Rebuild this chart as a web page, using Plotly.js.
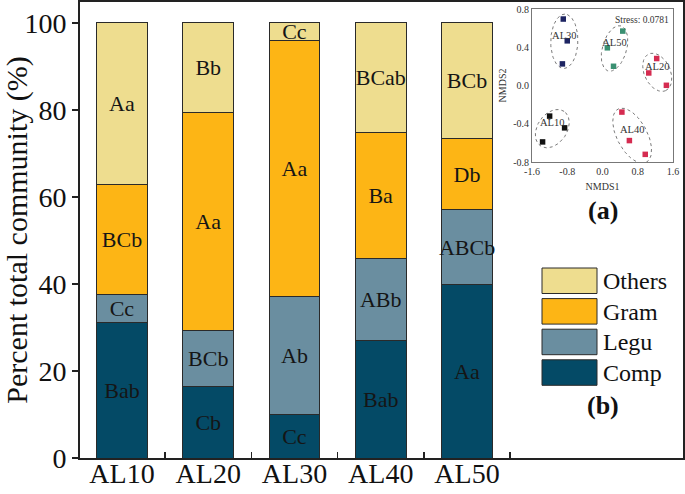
<!DOCTYPE html>
<html>
<head>
<meta charset="utf-8">
<script src="https://cdn.plot.ly/plotly-3.0.1.min.js"></script>
<style>html,body{margin:0;padding:0;background:#fff;}#chart{width:685px;height:494px;}</style>
</head>
<body>
<div id="chart"></div>
<script>
// ---- Data (bar chart, b) ----
const categories = ['AL10', 'AL20', 'AL30', 'AL40', 'AL50'];
const compValues = [31.1, 16.5, 10.1, 26.9, 39.8];
const leguValues = [6.5, 12.7, 27.0, 19.0, 17.2];
const gramValues = [25.3, 50.1, 58.8, 28.9, 16.4];
const othersValues = [37.1, 20.7, 4.1, 25.2, 26.6];
const compLabels = ['Bab', 'Cb', 'Cc', 'Bab', 'Aa'];
const leguLabels = ['Cc', 'BCb', 'Ab', 'ABb', 'ABCb'];
const gramLabels = ['BCb', 'Aa', 'Aa', 'Ba', 'Db'];
const othersLabels = ['Aa', 'Bb', 'Cc', 'BCab', 'BCb'];
const yTickValues = [0, 20, 40, 60, 80, 100];

// ---- Data (NMDS inset, a) ----
const nmdsGroups = ['AL10', 'AL20', 'AL30', 'AL40', 'AL50'];
const al10X = [-1.20, -0.86, -1.36];
const al10Y = [-0.32, -0.443, -0.59];
const al20X = [1.23, 1.05, 1.45];
const al20Y = [0.282, 0.131, 0.002];
const al30X = [-0.89, -0.80, -0.91];
const al30Y = [0.695, 0.467, 0.226];
const al40X = [0.44, 0.61, 0.97];
const al40Y = [-0.278, -0.576, -0.72];
const al50X = [0.46, 0.11, 0.25];
const al50Y = [0.569, 0.394, 0.201];
const nmdsTicksX = [-1.6, -0.8, 0.0, 0.8, 1.6];
const nmdsTicksY = [-0.8, -0.4, 0.0, 0.4, 0.8];
const stressText = 'Stress: 0.0781';

// ---- Styles ----
const FONT = 'Liberation Serif, Times New Roman, serif';
const seriesNames = ['Comp', 'Legu', 'Gram', 'Others'];
const seriesColors = ['#044a66', '#6a8ea0', '#fdb515', '#eedd8f'];
const nmdsColors = ['#111111', '#d52b50', '#1d2462', '#d52b50', '#3a9072'];

const W = 685, H = 494;
const M = {l: 80, r: 2, t: 2, b: 36};
const plotW = W - M.l - M.r, plotH = H - M.t - M.b;
const px2x = p => (p - M.l) / plotW;
const px2y = p => (H - M.b - p) / plotH;

// inset placement
const insetDomX = [px2x(532), px2x(673)];
const insetDomY = [px2y(162), px2y(9)];
const insetRangeX = [-1.6, 1.6], insetRangeY = [-0.8, 0.8];
const sx = (insetDomX[1] - insetDomX[0]) * plotW / (insetRangeX[1] - insetRangeX[0]);
const sy = (insetDomY[1] - insetDomY[0]) * plotH / (insetRangeY[1] - insetRangeY[0]);

function ellipseFor(xs, ys) {
  const px = xs.map(v => v * sx), py = ys.map(v => v * sy);
  const n = px.length;
  const mx = px.reduce((a, b) => a + b, 0) / n, my = py.reduce((a, b) => a + b, 0) / n;
  let cxx = 0, cyy = 0, cxy = 0;
  for (let i = 0; i < n; i++) { const dx = px[i] - mx, dy = py[i] - my; cxx += dx * dx; cyy += dy * dy; cxy += dx * dy; }
  const th = 0.5 * Math.atan2(2 * cxy, cxx - cyy);
  const ux = Math.cos(th), uy = Math.sin(th), vx = -uy, vy = ux;
  let maxP = 0, maxQ = 0;
  for (let i = 0; i < n; i++) {
    const dx = px[i] - mx, dy = py[i] - my;
    maxP = Math.max(maxP, Math.abs(dx * ux + dy * uy));
    maxQ = Math.max(maxQ, Math.abs(dx * vx + dy * vy));
  }
  const a = maxP + 4.5, b = Math.max(0.5 * a, maxQ + 5);
  const ex = [], ey = [];
  for (let k = 0; k <= 90; k++) {
    const t = 2 * Math.PI * k / 90;
    const X = mx + a * Math.cos(t) * ux + b * Math.sin(t) * vx;
    const Y = my + a * Math.cos(t) * uy + b * Math.sin(t) * vy;
    ex.push(X / sx); ey.push(Y / sy);
  }
  return {ex, ey, cx: mx / sx, cy: my / sy};
}

const barSeries = [
  [compValues, compLabels],
  [leguValues, leguLabels],
  [gramValues, gramLabels],
  [othersValues, othersLabels]
];

const traces = barSeries.map((s, i) => ({
  type: 'bar',
  name: seriesNames[i],
  x: categories,
  y: s[0],
  text: s[1],
  textposition: 'inside',
  insidetextanchor: 'middle',
  textangle: 0,
  constraintext: 'none',
  textfont: {family: FONT, size: 22, color: '#151515'},
  marker: {color: seriesColors[i], line: {color: '#2a2a2a', width: 1}},
  xaxis: 'x', yaxis: 'y',
  showlegend: false,
  hoverinfo: 'skip'
}));

const groupXs = [al10X, al20X, al30X, al40X, al50X];
const groupYs = [al10Y, al20Y, al30Y, al40Y, al50Y];
const labX = [], labY = [];
nmdsGroups.forEach((g, i) => {
  const e = ellipseFor(groupXs[i], groupYs[i]);
  traces.push({
    type: 'scatter', mode: 'lines', x: e.ex, y: e.ey,
    line: {color: '#7a7a7a', width: 1, dash: 'dot'},
    xaxis: 'x2', yaxis: 'y2', showlegend: false, hoverinfo: 'skip'
  });
  traces.push({
    type: 'scatter', mode: 'markers', x: groupXs[i], y: groupYs[i], name: g,
    marker: {symbol: 'square', size: 5.5, color: nmdsColors[i]},
    xaxis: 'x2', yaxis: 'y2', showlegend: false, hoverinfo: 'skip'
  });
  labX.push(e.cx); labY.push(e.cy);
});
traces.push({
  type: 'scatter', mode: 'text', x: labX, y: labY, text: nmdsGroups,
  textposition: 'top center',
  textfont: {family: FONT, size: 10.5, color: '#333'},
  xaxis: 'x2', yaxis: 'y2', showlegend: false, hoverinfo: 'skip'
});

// custom legend (b)
const shapes = [];
const annotations = [];
const legendOrder = [3, 2, 1, 0];
legendOrder.forEach((si, k) => {
  const top = 268 + k * 30.6;
  shapes.push({
    type: 'rect', xref: 'paper', yref: 'paper',
    x0: px2x(542), x1: px2x(597), y0: px2y(top + 25.5), y1: px2y(top),
    fillcolor: seriesColors[si], line: {color: '#2a2a2a', width: 1}
  });
  annotations.push({
    xref: 'paper', yref: 'paper', x: px2x(601), y: px2y(top + 13),
    xanchor: 'left', yanchor: 'middle', showarrow: false,
    text: seriesNames[si], font: {family: FONT, size: 24, color: '#111'}
  });
});
annotations.push({
  xref: 'paper', yref: 'paper', x: px2x(603), y: px2y(405),
  xanchor: 'center', yanchor: 'middle', showarrow: false,
  text: '<b>(b)</b>', font: {family: FONT, size: 26, color: '#111'}
});
annotations.push({
  xref: 'paper', yref: 'paper', x: px2x(603), y: px2y(210),
  xanchor: 'center', yanchor: 'middle', showarrow: false,
  text: '<b>(a)</b>', font: {family: FONT, size: 26, color: '#111'}
});
annotations.push({
  xref: 'x2 domain', yref: 'y2 domain', x: 0.985, y: 0.975,
  xanchor: 'right', yanchor: 'top', showarrow: false,
  text: stressText, font: {family: FONT, size: 9.5, color: '#333'}
});

const layout = {
  width: W, height: H,
  margin: M,
  paper_bgcolor: '#fff', plot_bgcolor: '#fff',
  barmode: 'stack', bargap: 0.41,
  font: {family: FONT, color: '#111'},
  xaxis: {
    type: 'category', range: [-0.487, 6.504], tickson: 'boundaries',
    ticks: 'inside', ticklen: 6, tickwidth: 1.5, tickcolor: '#222',
    showline: true, linewidth: 2, linecolor: '#222', mirror: true,
    showgrid: false, zeroline: false, ticklabelstandoff: -11,
    tickfont: {family: FONT, size: 28, color: '#111'}
  },
  yaxis: {
    range: [0, 104.8], tickvals: yTickValues,
    ticks: 'outside', ticklen: 6, tickwidth: 1.5, tickcolor: '#222',
    showline: true, linewidth: 2, linecolor: '#222', mirror: true,
    showgrid: false, zeroline: false,
    tickfont: {family: FONT, size: 28, color: '#111'},
    title: {text: 'Percent total community (%)', font: {family: FONT, size: 30, color: '#111'}, standoff: 4}
  },
  xaxis2: {
    domain: insetDomX, anchor: 'y2', range: insetRangeX, tickvals: nmdsTicksX,
    ticktext: nmdsTicksX.map(v => v.toFixed(1)),
    showline: true, linewidth: 1, linecolor: '#777', mirror: true,
    ticks: '', showgrid: false, zeroline: false,
    tickfont: {family: FONT, size: 10, color: '#333'},
    title: {text: 'NMDS1', font: {family: FONT, size: 10, color: '#333'}, standoff: 6}
  },
  yaxis2: {
    domain: insetDomY, anchor: 'x2', range: insetRangeY, tickvals: nmdsTicksY,
    ticktext: nmdsTicksY.map(v => v.toFixed(1)),
    showline: true, linewidth: 1, linecolor: '#777', mirror: true,
    ticks: '', showgrid: false, zeroline: false,
    tickfont: {family: FONT, size: 10, color: '#333'},
    title: {text: 'NMDS2', font: {family: FONT, size: 10, color: '#333'}, standoff: 4}
  },
  shapes: shapes,
  annotations: annotations,
  showlegend: false
};

Plotly.newPlot('chart', traces, layout, {staticPlot: true, displayModeBar: false});
</script>
</body>
</html>
